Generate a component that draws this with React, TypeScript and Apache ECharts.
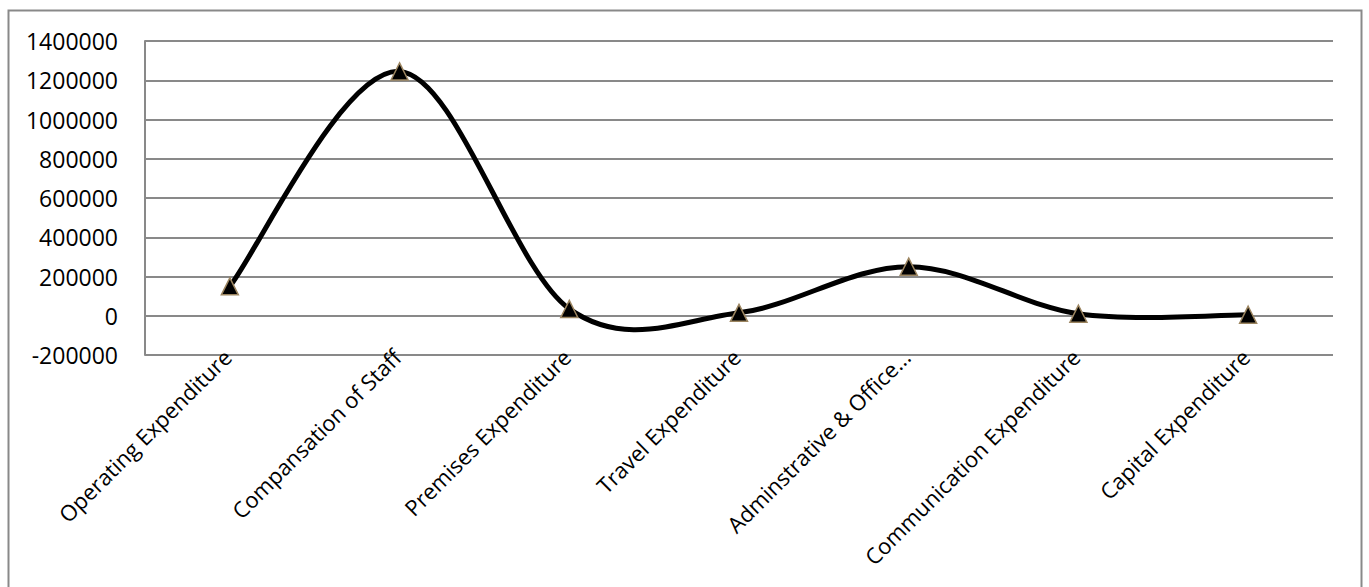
import React, { useEffect, useRef } from "react";
import * as echarts from "echarts";

const categories = [
  "Operating Expenditure",
  "Compansation of Staff",
  "Premises Expenditure",
  "Travel Expenditure",
  "Adminstrative & Office...",
  "Communication Expenditure",
  "Capital Expenditure",
];
const values = [150000, 1245000, 35000, 15000, 250000, 10000, 5000];
const yMin = -200000;
const yMax = 1400000;
const yInterval = 200000;

export default function App() {
  const ref = useRef<HTMLDivElement>(null);
  useEffect(() => {
    const chart = echarts.init(ref.current!, null, { renderer: "svg" });
    const font = "'Open Sans', sans-serif";
    const n = values.length;
    chart.setOption({
      animation: false,
      backgroundColor: "#ffffff",
      graphic: [
        {
          type: "rect",
          shape: { x: 8.5, y: 10.5, width: 1353, height: 620 },
          style: { fill: "none", stroke: "#898989", lineWidth: 2 },
          silent: true,
        },
      ],
      grid: { left: 145, top: 41, right: 36, bottom: 232, containLabel: false },
      xAxis: {
        type: "category",
        data: categories,
        boundaryGap: true,
        axisLine: { show: false },
        axisTick: { show: false },
        axisLabel: {
          rotate: 45,
          margin: -5,
          interval: 0,
          color: "#000",
          fontFamily: font,
          fontSize: 22,
          padding: [0, 4, 0, 0],
        },
      },
      yAxis: {
        type: "value",
        min: yMin,
        max: yMax,
        interval: yInterval,
        axisLine: { show: true, lineStyle: { color: "#898989", width: 2 } },
        axisTick: { show: false },
        splitLine: { lineStyle: { color: "#898989", width: 2 } },
        axisLabel: {
          margin: 27,
          color: "#000",
          fontFamily: font,
          fontSize: 23,
          formatter: (v: number) => String(v),
        },
      },
      series: [
        {
          type: "custom",
          z: 1,
          silent: true,
          data: values.map((v, i) => [i, v]),
          renderItem: (params: any, api: any) => {
            const i = params.dataIndex;
            if (i >= n - 1) return null;
            const p = (k: number) => {
              const kk = Math.max(0, Math.min(n - 1, k));
              return api.coord([kk, values[kk]]);
            };
            const p0 = p(i - 1);
            const p1 = p(i);
            const p2 = p(i + 1);
            const p3 = p(i + 2);
            const t = 1 / 6;
            const c1 = [p1[0] + (p2[0] - p0[0]) * t, p1[1] + (p2[1] - p0[1]) * t];
            const c2 = [p2[0] - (p3[0] - p1[0]) * t, p2[1] - (p3[1] - p1[1]) * t];
            return {
              type: "bezierCurve",
              shape: {
                x1: p1[0],
                y1: p1[1],
                cpx1: c1[0],
                cpy1: c1[1],
                cpx2: c2[0],
                cpy2: c2[1],
                x2: p2[0],
                y2: p2[1],
              },
              style: { stroke: "#000", lineWidth: 5, fill: "none", lineCap: "round" },
            };
          },
        },
        {
          type: "line",
          z: 3,
          data: values,
          symbol: "triangle",
          symbolSize: 17,
          lineStyle: { width: 0, opacity: 0 },
          itemStyle: { color: "#000", borderColor: "#9c8560", borderWidth: 1.5 },
        },
      ],
    });
    return () => chart.dispose();
  }, []);
  return (
    <div
      ref={ref}
      style={{ position: "absolute", left: 0, top: 0, width: 1369, height: 587 }}
    />
  );
}
